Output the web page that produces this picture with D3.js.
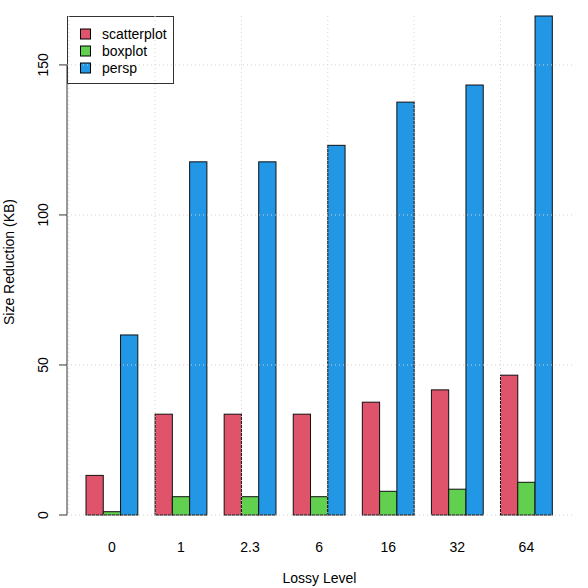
<!DOCTYPE html>
<html>
<head>
<meta charset="utf-8">
<script src="https://cdn.jsdelivr.net/npm/d3@7.9.0/dist/d3.min.js"></script>
<style>
  body { margin: 0; background: #fff; }
  text { font-family: "Liberation Sans", Arial, sans-serif; }
</style>
</head>
<body>
<svg id="chart" width="588" height="588"></svg>
<script>
const levels = ["0", "1", "2.3", "6", "16", "32", "64"];
const seriesNames = ["scatterplot", "boxplot", "persp"];
const scatterplot = [13.2, 33.6, 33.6, 33.6, 37.6, 41.7, 46.6];
const boxplot = [1.1, 6.1, 6.1, 6.1, 7.9, 8.6, 10.9];
const persp = [60, 117.7, 117.7, 123.2, 137.6, 143.3, 166.3];
const yTicks = [0, 50, 100, 150];
const colors = ["#DF536B", "#61D04F", "#2297E6"];

const svg = d3.select("#chart");
const plot = {left: 67, right: 572, top: 16, bottom: 515};

// bar units like R barplot: 1 space, then 3 bars per group
const x = d3.scaleLinear().domain([-0.1, 29.14]).range([plot.left, plot.right]);
const y = d3.scaleLinear().domain([0, 166.3]).range([plot.bottom, plot.top]);

const allSeries = [scatterplot, boxplot, persp];
const bars = [];
levels.forEach((lv, i) => {
    allSeries.forEach((s, j) => {
        bars.push({x0: i * 4 + 1 + j, value: s[i], color: colors[j]});
    });
});

svg.append("g").selectAll("rect")
    .data(bars)
    .enter()
    .append("rect")
    .attr("x", d => x(d.x0))
    .attr("width", d => x(d.x0 + 1) - x(d.x0))
    .attr("y", d => y(d.value))
    .attr("height", d => y(0) - y(d.value))
    .attr("fill", d => d.color)
    .attr("stroke", "#111")
    .attr("stroke-width", 1);

// x labels at group centres
svg.append("g").selectAll("text")
    .data(levels)
    .enter()
    .append("text")
    .attr("x", (d, i) => x(i * 4 + 2.5))
    .attr("y", 552)
    .attr("text-anchor", "middle")
    .style("font-size", "14px")
    .text(d => d);

// y axis
const yAxis = svg.append("g");
yAxis.append("line")
    .attr("x1", plot.left).attr("x2", plot.left)
    .attr("y1", y(0)).attr("y2", y(150))
    .attr("stroke", "#333");
yAxis.selectAll(".tick")
    .data(yTicks)
    .enter()
    .append("line")
    .attr("x1", plot.left - 8).attr("x2", plot.left)
    .attr("y1", d => y(d)).attr("y2", d => y(d))
    .attr("stroke", "#333");
yAxis.selectAll("text")
    .data(yTicks)
    .enter()
    .append("text")
    .attr("transform", d => `translate(48,${y(d)}) rotate(-90)`)
    .attr("text-anchor", "middle")
    .style("font-size", "14px")
    .text(d => d);

// legend (no fill, grid shows through)
const lg = svg.append("g");
lg.append("rect")
    .attr("x", 67.5).attr("y", 16.5)
    .attr("width", 106).attr("height", 67)
    .attr("fill", "none")
    .attr("stroke", "#333");
seriesNames.forEach((name, j) => {
    const cy = 34 + j * 17;
    lg.append("rect")
        .attr("x", 80.5).attr("y", cy - 5)
        .attr("width", 10).attr("height", 10)
        .attr("fill", colors[j])
        .attr("stroke", "#000");
    lg.append("text")
        .attr("x", 102)
        .attr("y", cy + 5)
        .style("font-size", "14px")
        .text(name);
});

// grid on top, like R grid()
const grid = svg.append("g")
    .attr("stroke", "#D3D3D3")
    .attr("stroke-dasharray", "1,3");
grid.selectAll(".h")
    .data(yTicks)
    .enter()
    .append("line")
    .attr("x1", plot.left).attr("x2", plot.right)
    .attr("y1", d => y(d)).attr("y2", d => y(d));
grid.selectAll(".v")
    .data([0, 5, 10, 15, 20, 25])
    .enter()
    .append("line")
    .attr("x1", d => x(d)).attr("x2", d => x(d))
    .attr("y1", plot.top).attr("y2", plot.bottom);

// axis titles
svg.append("text")
    .attr("x", (plot.left + plot.right) / 2)
    .attr("y", 583)
    .attr("text-anchor", "middle")
    .style("font-size", "14px")
    .text("Lossy Level");
svg.append("text")
    .attr("transform", `translate(14,262) rotate(-90)`)
    .attr("text-anchor", "middle")
    .style("font-size", "14px")
    .text("Size Reduction (KB)");
</script>
</body>
</html>
